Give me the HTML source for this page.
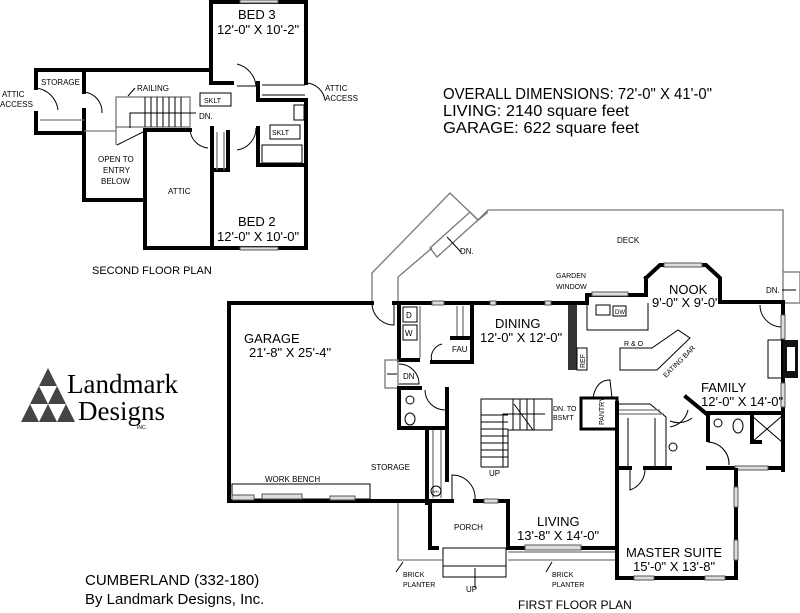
<!DOCTYPE html>
<html><head><meta charset="utf-8"><style>
html,body{margin:0;padding:0;background:#fff;width:800px;height:613px;overflow:hidden}
svg{display:block}
text{font-family:"Liberation Sans",Arial,sans-serif;fill:#000}
.w{stroke:#000;stroke-width:4;fill:none;stroke-linecap:square}
.t{stroke:#000;stroke-width:1;fill:none}
.g{stroke:#777;stroke-width:1.3;fill:none}
.win{fill:#ddd;stroke:#555;stroke-width:1}
</style></head><body>
<svg width="800" height="613" viewBox="0 0 800 613" xmlns="http://www.w3.org/2000/svg">
<!-- ================= SECOND FLOOR ================= -->
<g>
<polyline class="w" points="211,83 211,2 306,2 306,83"/>
<line class="w" x1="306" y1="100" x2="306" y2="248"/>
<line class="w" x1="36" y1="70" x2="211" y2="70"/>
<polyline class="w" points="36,88 36,70"/>
<polyline class="w" points="36,113 36,133 84,133"/>
<line class="w" x1="84" y1="70" x2="84" y2="92"/>
<line class="w" x1="84" y1="110" x2="84" y2="130"/>
<polyline class="w" points="84,133 84,200 145,200 145,248 306,248"/>
<line class="w" x1="145" y1="130" x2="145" y2="200"/>
<polyline class="w" points="145,130 190,130"/>
<line class="w" x1="212" y1="128" x2="212" y2="248"/>
<polyline class="w" points="212,128 212,170 228,170 228,132"/>
<polyline class="w" points="211,83 232,83"/>
<polyline class="w" points="258,83 258,100 306,100"/>
<polyline class="w" points="258,128 258,165 306,165"/>
<line class="t" x1="262" y1="85" x2="305" y2="85"/>
<line class="t" x1="262" y1="95" x2="305" y2="95"/>
<!-- attic access doors -->
<path class="t" d="M36,88 A25,25 0 0 1 58,110 M84,92 A20,20 0 0 1 102,113"/>
<path class="t" d="M306,83 A20,20 0 0 1 325,100"/>
<path class="t" d="M237,64 A25,25 0 0 1 256,86 L237,86"/>
<path class="t" d="M237,150 A22,22 0 0 0 256,128"/>
<path class="t" d="M190,130 A20,20 0 0 0 208,148"/>
<!-- stairs -->
<rect class="g" x="116" y="97" width="74" height="30"/>
<line class="g" x1="116" y1="127" x2="116" y2="145"/>
<g class="t"><line x1="145" y1="97" x2="145" y2="127"/><line x1="151" y1="97" x2="151" y2="127"/><line x1="157" y1="97" x2="157" y2="127"/><line x1="163" y1="97" x2="163" y2="127"/><line x1="169" y1="97" x2="169" y2="127"/><line x1="175" y1="97" x2="175" y2="127"/><line x1="181" y1="97" x2="181" y2="127"/></g>
<polyline class="t" points="196,113 130,113 130,128"/>
<line class="t" x1="117" y1="145" x2="145" y2="131"/>
<line class="g" x1="40" y1="120" x2="84" y2="120"/>
<line class="g" x1="84" y1="131" x2="116" y2="131"/>
<line class="g" x1="217" y1="132" x2="217" y2="170"/>
<line class="g" x1="224" y1="132" x2="224" y2="170"/>
<rect class="t" x="200" y="93" width="31" height="13"/>
<rect class="t" x="270" y="125" width="30" height="14"/>
<rect class="t" x="262" y="145" width="40" height="18"/>
<rect class="t" x="294" y="105" width="10" height="15"/>
<rect class="win" x="240" y="0" width="38" height="3"/>
<rect class="win" x="240" y="247" width="38" height="3"/>
<text x="238" y="19" font-size="13">BED 3</text>
<text x="217" y="34" font-size="13">12'-0" X 10'-2"</text>
<text x="238" y="226" font-size="13">BED 2</text>
<text x="217" y="241" font-size="13">12'-0" X 10'-0"</text>
<text x="41" y="85" font-size="8">STORAGE</text>
<text x="2" y="97" font-size="8">ATTIC</text>
<text x="0" y="107" font-size="8">ACCESS</text>
<text x="325" y="91" font-size="8">ATTIC</text>
<text x="325" y="101" font-size="8">ACCESS</text>
<text x="137" y="91" font-size="8">RAILING</text>
<line class="t" x1="135" y1="88" x2="128" y2="96"/>
<text x="204" y="103" font-size="7">SKLT</text>
<text x="272" y="135" font-size="7">SKLT</text>
<text x="199" y="119" font-size="8">DN.</text>
<text x="98" y="162" font-size="8">OPEN TO</text>
<text x="103" y="173" font-size="8">ENTRY</text>
<text x="101" y="184" font-size="8">BELOW</text>
<text x="168" y="194" font-size="8">ATTIC</text>
<text x="92" y="274" font-size="11">SECOND FLOOR PLAN</text>
</g>

<!-- ================= TEXT BLOCK ================= -->
<text x="443" y="99" font-size="16" textLength="269" lengthAdjust="spacingAndGlyphs">OVERALL DIMENSIONS: 72'-0" X 41'-0"</text>
<text x="443" y="116" font-size="16" textLength="186" lengthAdjust="spacingAndGlyphs">LIVING: 2140 square feet</text>
<text x="443" y="133" font-size="16" textLength="196" lengthAdjust="spacingAndGlyphs">GARAGE: 622 square feet</text>

<!-- ================= LOGO ================= -->
<g fill="#444">
<polygon points="48,368 57,386 39,386"/>
<polygon points="39,386 48,404 30,404"/>
<polygon points="57,386 66,404 48,404"/>
<polygon points="30,404 39,422 21,422"/>
<polygon points="48,404 57,422 39,422"/>
<polygon points="66,404 75,422 57,422"/>
</g>
<text x="67" y="393" font-size="27" style="font-family:'Liberation Serif',serif">Landmark</text>
<text x="78" y="420" font-size="27" style="font-family:'Liberation Serif',serif">Designs</text>
<text x="137" y="429" font-size="5">INC.</text>
<text x="85" y="585" font-size="15">CUMBERLAND (332-180)</text>
<text x="85" y="604" font-size="15">By Landmark Designs, Inc.</text>

<!-- ================= FIRST FLOOR ================= -->
<!-- deck -->
<polyline class="g" points="372,303 372,273 450,193 478,220 488,210 783,210 783,272"/>
<polyline class="g" points="398,303 398,277 432,248"/>
<polyline class="g" points="476,222 488,212"/>
<polygon class="g" points="430,248 437,257 478,220 470,212"/>
<line class="t" x1="447" y1="237" x2="461" y2="252"/>
<rect class="g" x="783" y="272" width="17" height="31"/>
<text x="460" y="254" font-size="8">DN.</text>
<text x="617" y="243" font-size="8">DECK</text>
<text x="766" y="293" font-size="8">DN.</text>
<line class="t" x1="782" y1="290" x2="796" y2="290"/>
<!-- garage -->
<polyline class="w" points="372,303 229,303 229,501 428,501"/>
<line class="w" x1="394" y1="303" x2="568" y2="303"/>
<path class="t" d="M372,303 A22,22 0 0 0 394,325 L394,303"/>
<rect class="t" x="232" y="484" width="138" height="15"/>
<rect class="win" x="232" y="495" width="22" height="5"/>
<rect class="win" x="262" y="494" width="40" height="5"/>
<rect class="win" x="330" y="496" width="25" height="4"/>
<text x="244" y="343" font-size="13">GARAGE</text>
<text x="249" y="357" font-size="13">21'-8" X 25'-4"</text>
<text x="265" y="482" font-size="8">WORK BENCH</text>
<text x="371" y="470" font-size="8">STORAGE</text>
<!-- laundry / FAU -->
<polyline class="w" points="399,303 399,360 418,360"/>
<polyline class="w" points="432,362 472,362 472,303"/>
<rect class="t" x="403" y="307" width="14" height="15"/><text x="406" y="318" font-size="8">D</text>
<rect class="t" x="403" y="325" width="14" height="15"/><text x="405" y="336" font-size="8">W</text>
<line class="g" x1="420" y1="306" x2="420" y2="358"/>
<line class="g" x1="457" y1="306" x2="457" y2="338"/>
<line class="g" x1="463" y1="306" x2="463" y2="338"/>
<polyline class="w" points="452,338 472,338"/>
<text x="452" y="352" font-size="8">FAU</text>
<path class="t" d="M432,362 A14,14 0 0 1 442,344"/>
<rect class="g" x="385" y="360" width="13" height="28"/>
<path class="t" d="M399,364 A20,20 0 0 1 419,384 L399,384"/>
<text x="403" y="379" font-size="8">DN</text>
<line class="t" x1="387" y1="374" x2="397" y2="374"/>
<!-- half bath -->
<polyline class="w" points="399,388 399,428 447,428 447,389"/>
<line class="w" x1="399" y1="388" x2="420" y2="388"/>
<path class="t" d="M425,390 A20,20 0 0 0 445,410"/>
<circle class="t" cx="410" cy="400" r="4"/><ellipse class="t" cx="410" cy="419" rx="5" ry="6"/>
<!-- closet -->
<line class="w" x1="427" y1="428" x2="427" y2="503"/>
<line class="g" x1="433" y1="430" x2="433" y2="498"/>
<line class="g" x1="441" y1="430" x2="441" y2="498"/>
<line class="w" x1="447" y1="428" x2="447" y2="480"/>
<circle class="t" cx="436" cy="491" r="5"/><text x="432" y="493" font-size="4">WH</text>
<!-- porch -->
<polyline class="w" points="430,501 430,548 437,548"/>
<line class="w" x1="428" y1="501" x2="452" y2="501"/>
<polyline class="w" points="475,501 508,501 508,548 615,548"/>
<path class="t" d="M452,501 L452,475 A23,23 0 0 1 475,500"/>
<rect class="win" x="484" y="499" width="14" height="4"/>
<rect class="t" x="443" y="548" width="63" height="29"/>
<line class="t" x1="443" y1="566" x2="506" y2="566"/>
<text x="454" y="530" font-size="8">PORCH</text>
<text x="466" y="592" font-size="8">UP</text>
<line class="t" x1="475" y1="588" x2="475" y2="568"/>
<polyline class="g" points="398,503 398,560 443,560"/>
<line class="g" x1="508" y1="552" x2="615" y2="552"/>
<line class="g" x1="508" y1="560" x2="615" y2="560"/>
<text x="403" y="577" font-size="7">BRICK</text><text x="403" y="587" font-size="7">PLANTER</text>
<text x="552" y="577" font-size="7">BRICK</text><text x="552" y="587" font-size="7">PLANTER</text>
<line class="t" x1="396" y1="572" x2="403" y2="562"/>
<line class="t" x1="546" y1="572" x2="552" y2="562"/>
<rect class="win" x="525" y="545" width="56" height="5"/>
<text x="537" y="526" font-size="13">LIVING</text>
<text x="517" y="540" font-size="13">13'-8" X 14'-0"</text>
<text x="518" y="609" font-size="12">FIRST FLOOR PLAN</text>
<!-- stairs -->
<polyline class="t" points="481,467 481,399 552,399 552,430 508,430 508,467 481,467"/>
<g class="t">
<line x1="481" y1="415" x2="508" y2="415"/><line x1="481" y1="422" x2="508" y2="422"/><line x1="481" y1="429" x2="508" y2="429"/><line x1="481" y1="436" x2="508" y2="436"/><line x1="481" y1="443" x2="508" y2="443"/><line x1="481" y1="450" x2="508" y2="450"/><line x1="481" y1="457" x2="508" y2="457"/>
<line x1="513" y1="399" x2="513" y2="430"/><line x1="520" y1="399" x2="520" y2="430"/><line x1="527" y1="399" x2="527" y2="430"/><line x1="534" y1="399" x2="534" y2="430"/>
<line x1="514" y1="404" x2="533" y2="430"/>
<polyline points="503,467 503,414 545,414"/>
</g>
<text x="489" y="476" font-size="8">UP</text>
<text x="553" y="411" font-size="7">DN. TO</text><text x="553" y="420" font-size="7">BSM'T</text>
<!-- dining -->
<rect class="win" x="432" y="301" width="12" height="4"/>
<rect class="win" x="490" y="301" width="6" height="4"/>
<rect class="win" x="545" y="301" width="6" height="4"/>
<text x="495" y="328" font-size="13">DINING</text>
<text x="480" y="342" font-size="13">12'-0" X 12'-0"</text>
<!-- kitchen -->
<rect x="568" y="303" width="9" height="67" fill="#333"/>
<rect class="t" x="577" y="348" width="10" height="22"/>
<text transform="translate(585,368) rotate(-90)" font-size="7">REF</text>
<polyline class="w" points="568,303 587,303 587,295 646,295 646,278"/>
<rect class="win" x="592" y="292" width="36" height="4"/>
<text x="556" y="278" font-size="7">GARDEN</text><text x="556" y="289" font-size="7">WINDOW</text>
<polyline class="t" points="587,303 587,330 648,330 648,303"/>
<rect class="t" x="596" y="305" width="14" height="10"/>
<rect class="t" x="613" y="306" width="13" height="10"/><text x="615" y="314" font-size="6">DW</text>
<polygon class="t" points="620,348 620,370 657,370 690,338 678,330 652,348"/>
<text x="624" y="346" font-size="7">R &amp; O</text>
<text transform="translate(666,378) rotate(-45)" font-size="7">EATING BAR</text>
<!-- nook -->
<polyline class="w" points="646,278 660,265 706,265 720,278 720,302 783,302"/>
<rect class="win" x="664" y="263" width="38" height="4"/>
<text x="669" y="294" font-size="13">NOOK</text>
<text x="652" y="307" font-size="13">9'-0" X 9'-0"</text>
<!-- family -->
<line class="w" x1="783" y1="302" x2="783" y2="470"/>
<path class="t" d="M760,305 A22,22 0 0 0 782,327"/>
<rect class="win" x="781" y="315" width="4" height="24"/>
<rect class="win" x="781" y="383" width="4" height="24"/>
<rect x="783" y="340" width="15" height="38" fill="#111"/>
<rect x="787" y="347" width="8" height="24" fill="#fff"/>
<rect class="t" x="768" y="340" width="14" height="38"/>
<text x="701" y="392" font-size="13">FAMILY</text>
<text x="701" y="406" font-size="13">12'-0" X 14'-0"</text>
<polyline class="w" points="686,397 708,415"/>
<path class="t" d="M688,410 A22,22 0 0 1 670,427"/>
<!-- master bath -->
<polyline class="w" points="708,413 783,413"/>
<polyline class="w" points="708,413 708,440"/>
<polyline class="w" points="708,468 783,468"/>
<polyline class="w" points="752,413 752,442 760,442"/>
<line class="t" x1="752" y1="416" x2="782" y2="442"/><line class="t" x1="782" y1="416" x2="752" y2="442"/>
<circle class="t" cx="718" cy="423" r="4"/><ellipse class="t" cx="738" cy="426" rx="5" ry="7"/>
<path class="t" d="M708,442 A22,22 0 0 1 729,465"/>
<rect class="win" x="735" y="466" width="33" height="4"/>
<!-- master suite -->
<line class="w" x1="617" y1="403" x2="617" y2="578"/>
<polyline class="w" points="617,578 736,578 736,470"/>
<rect class="win" x="634" y="576" width="20" height="4"/><rect class="win" x="705" y="576" width="20" height="4"/>
<rect class="win" x="734" y="487" width="4" height="20"/><rect class="win" x="734" y="540" width="4" height="20"/>
<rect class="w" x="581" y="398" width="36" height="31" style="stroke-width:3"/>
<path class="t" d="M593,398 Q596,380 610,380 L612,398" />
<text transform="translate(604,425) rotate(-90)" font-size="7">PANTRY</text>
<polyline class="t" points="619,404 650,404 666,417 666,469"/>
<line class="g" x1="619" y1="410" x2="660" y2="410"/>
<line class="g" x1="619" y1="414" x2="664" y2="414"/>
<line class="t" x1="628" y1="418" x2="628" y2="468"/>
<line class="t" x1="655" y1="418" x2="655" y2="468"/>
<line class="w" x1="619" y1="468" x2="630" y2="468"/>
<line class="w" x1="645" y1="468" x2="670" y2="468"/>
<path class="t" d="M630,468 L630,490 A22,22 0 0 0 645,468"/>
<circle class="t" cx="673" cy="447" r="4"/>
<path class="t" d="M670,421 A22,22 0 0 0 692,418"/>
<text x="626" y="557" font-size="13">MASTER SUITE</text>
<text x="633" y="571" font-size="13">15'-0" X 13'-8"</text>
</svg>
</body></html>
